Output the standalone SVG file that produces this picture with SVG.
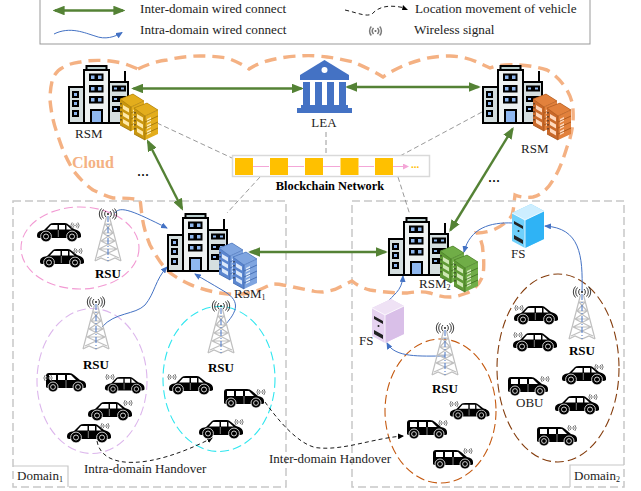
<svg xmlns="http://www.w3.org/2000/svg" xmlns:xlink="http://www.w3.org/1999/xlink" width="641" height="491" viewBox="0 0 641 491">
<style>
text{font-family:"Liberation Serif","Times New Roman",serif;fill:#222;font-size:13px}
.b{font-weight:bold;fill:#000}
.m{text-anchor:middle}
.dom{fill:none;stroke:#c8c8c8;stroke-width:1.5;stroke-dasharray:8 4}
.ell{fill:none;stroke-width:1.100;stroke-dasharray:9 4}
.green{fill:none;stroke:#548235;stroke-width:2.400;marker-start:url(#ga);marker-end:url(#ga)}
.blue{fill:none;stroke:#4472c4;stroke-width:1;marker-end:url(#ba)}
.gd{fill:none;stroke:#7f7f7f;stroke-width:.8;stroke-dasharray:5 3}
.kd{fill:none;stroke:#000;stroke-width:.9;stroke-dasharray:4 3;marker-end:url(#ka)}
.sg{fill:none;stroke:#7a7a7a;stroke-width:1}
.sd{fill:none;stroke:#222;stroke-width:.9}
.blk{fill:#ffc000}
.pk{stroke:#f4a6d7;stroke-width:1;fill:none;marker-end:url(#pa)}
.gold{--a:#ffe9a8;--b:#c9960f;--c:#9c7208;--d:#e3ad1c}
.oran{--a:#ffd9bd;--b:#c9692a;--c:#a35017;--d:#e2813c}
.bluS{--a:#dce9fa;--b:#5b86cf;--c:#3c66ad;--d:#7fa5e0}
.gree{--a:#cfe8b4;--b:#5f9a35;--c:#3f6f20;--d:#70ad47}
</style>
<defs>
<marker id="ga" markerWidth="5" markerHeight="4" refX="4" refY="2" orient="auto-start-reverse"><path d="M0 0L5 2L0 4z" fill="#548235"/></marker>
<marker id="ba" markerWidth="7" markerHeight="6" refX="6" refY="3" orient="auto" markerUnits="userSpaceOnUse"><path d="M0 0L7 3L0 6z" fill="#4472c4"/></marker>
<marker id="ka" markerWidth="6" markerHeight="6" refX="5" refY="3" orient="auto" markerUnits="userSpaceOnUse"><path d="M0 0L6 3L0 6z" fill="#000"/></marker>
<marker id="pa" markerWidth="6" markerHeight="6" refX="5" refY="3" orient="auto" markerUnits="userSpaceOnUse"><path d="M0 0L6 3L0 6z" fill="#f4a6d7"/></marker>
<g id="building">
<path d="M1 22h17v36H1z" fill="#d5dfe0" stroke="#000" stroke-width="2"/>
<path d="M41 17h19v41H41z" fill="#d5dfe0" stroke="#000" stroke-width="2"/>
<path d="M18.500 1h20v4h-20z" fill="#b9cdcd" stroke="#000" stroke-width="2"/>
<path d="M16 5h25v53H16z" fill="#eef2f2" stroke="#000" stroke-width="2"/>
<path d="M57 17V6" stroke="#000" stroke-width="2"/>
<g fill="#8fb8f0" stroke="#000" stroke-width="2">
<path d="M22 9.500h5.500v5.500H22zM29 9.500h5.500v5.500H29zM22 21h5.500v5.500H22zM29 21h5.500v5.500H29zM22 32h5.500v5.500H22zM29 32h5.500v5.500H29z"/>
<path d="M5 27h5v5H5zM5 36h5v5H5zM5 46h5v5H5z"/>
<path d="M45 21.500h5v4h-5zM52 21.500h5v4h-5zM45 32h5v4h-5zM52 32h5v4h-5zM45 42h5v4h-5zM52 42h5v4h-5z"/>
<path d="M23 45h11v13H23z"/>
</g>
</g>
<g id="unit">
<path d="M0 5L13 0L24 7L11 13V37L0 31z" fill="var(--b)"/>
<path d="M11 13L24 7V31L11 37z" fill="var(--d)"/>
<path d="M0 5L13 0L24 7L11 13z" fill="var(--d)" stroke="var(--c)" stroke-width=".5"/>
<path d="M11 13V37M0 31L11 37" stroke="var(--c)" stroke-width=".8" fill="none"/>
<g fill="var(--a)"><path d="M3 11l6 3.500v4l-6-3.500zM3 18l6 3.500v4l-6-3.500zM3 25l6 3.500v4l-6-3.500z"/><path d="M13 16l4-2v4l-4 2zM13 22l4-2v4l-4 2zM13 28l4-2v4l-4 2z"/></g>
<path d="M11 19l13-6M11 25l13-6M11 31l13-6" stroke="var(--c)" stroke-width=".8"/>
<path d="M1 9v20" stroke="#222" stroke-width="1" stroke-dasharray="1.500 2.500"/>
</g>
<g id="stack"><use href="#unit"/><use href="#unit" x="14" y="9"/></g>
<g id="sig"><path class="sg" d="M-1.300-2a3 3 0 0 0 0 4M-2.800-3a4.500 4.500 0 0 0 0 6M1.300-2a3 3 0 0 1 0 4M2.800-3a4.500 4.500 0 0 1 0 6"/><circle r=".7" fill="#666"/></g>
<g id="tower">
<g fill="none" stroke="#bfbfbf" stroke-width="1.200">
<path d="M-1.500 3L-13 47M1.500 3L13 47M-13 47L-7 44L0 47L7 44L13 47"/>
<path d="M-3 10H3M-5 19H5M-7 27H7M-9 35H9M-3 10L5 19M3 10L-5 19M-5 19L7 27M5 19L-7 27M-7 27L9 35M7 27L-9 35M-9 35L11 44M9 35L-11 44"/>
</g>
<path d="M0 2V47" stroke="#4472c4" stroke-width="1" stroke-dasharray="6 2 1 2"/>
<path class="sd" d="M-2-3a4 4 0 0 0 0 6M-4.500-4.500a6.500 6.500 0 0 0 0 9M-6.500-5.500a8 8 0 0 0 0 11M2-3a4 4 0 0 1 0 6M4.500-4.500a6.500 6.500 0 0 1 0 9M6.500-5.500a8 8 0 0 1 0 11"/>
<circle r="1" fill="#222"/>
</g>
<g id="suv">
<path d="M1 14C1 10 3 9 8 8L14 2Q15 1 18 1H29Q31 1 33 3L38 7C42 8 45 10 45 13V15Q44 16 42 16H3Q1 16 1 14Z" fill="#000"/>
<path d="M15 3H21.500V7.500H11zM23 3H29V7.500H23zM30.500 3L35.500 7.500H30.500z" fill="#fff"/>
<path d="M22.300 8V15" stroke="#fff" stroke-width=".5"/>
<g fill="#000" stroke="#fff" stroke-width=".8"><circle cx="10" cy="14.500" r="5.400"/><circle cx="36" cy="14.500" r="5.400"/><circle cx="10" cy="14.500" r="2.500"/><circle cx="36" cy="14.500" r="2.500"/></g>
</g>
<g id="van">
<path d="M1 15V4Q1 1 4 1H24Q27 1 29 3L35 8Q41 9 41 13V15Q41 16 39 16H2Z" fill="#000"/>
<path d="M4 3H11V8H4zM13 3H20V8H13zM22 3H26L31 8H22z" fill="#fff"/>
<path d="M21 8V16" stroke="#fff" stroke-width=".5"/>
<g fill="#000" stroke="#fff" stroke-width=".8"><circle cx="8" cy="15" r="5"/><circle cx="33" cy="15" r="5"/><circle cx="8" cy="15" r="2.400"/><circle cx="33" cy="15" r="2.400"/></g>
</g>
<g id="fs">
<path d="M0 9L19 0L32 7L32 35L13 44L0 37z" fill="var(--d)"/>
<path d="M13 16L32 7V35L13 44z" fill="var(--b)"/>
<path d="M0 9L19 0L32 7L13 16z" fill="var(--a)"/>
<path d="M0 9L13 16V44M13 16L32 7" stroke="#fff" stroke-width=".8" fill="none"/>
<path d="M2 17l9 5v3l-9-5zM2 31l9 5v4l-9-5z" fill="#222"/>
<circle cx="6.500" cy="27" r="1" fill="#222"/>
</g>
</defs>
<rect width="641" height="491" fill="#fff"/>
<g id="legend">
<rect x="40" y="-1" width="550" height="45" fill="none" stroke="#999" stroke-width="1"/>
<text x="140" y="13" style="font-size:13.200px">Inter-domain wired connect</text>
<text x="140" y="34" style="font-size:13.200px">Intra-domain wired connect</text>
<text x="415" y="13" style="font-size:13.200px">Location movement of vehicle</text>
<text x="414" y="34" style="font-size:13.200px">Wireless signal</text>
<use href="#sig" transform="translate(375.500 31) scale(1.500)"/>
</g>
<g id="domains">
<rect class="dom" x="13" y="201" width="273" height="286"/>
<rect class="dom" x="352" y="201" width="272" height="286"/>
<path d="M13 466H68V487" fill="none" stroke="#c8c8c8" stroke-width="1.200"/>
<path d="M570 487V465H624" fill="none" stroke="#c8c8c8" stroke-width="1.200"/>
<text x="17" y="480">Domain<tspan dy="2" style="font-size:8px">1</tspan></text>
<text x="574" y="480">Domain<tspan dy="2" style="font-size:8px">2</tspan></text>
</g>
<g id="regions">
<ellipse class="ell" cx="80" cy="248" rx="59" ry="41" stroke="#f29ad3"/>
<ellipse class="ell" cx="92" cy="381" rx="55" ry="72.500" stroke="#dcb6ec"/>
<ellipse class="ell" cx="219" cy="379" rx="56" ry="72.500" stroke="#2fe6ef"/>
<ellipse class="ell" cx="440.500" cy="411" rx="55.500" ry="72" stroke="#c55a11"/>
<ellipse class="ell" cx="558" cy="368" rx="61" ry="94" stroke="#843c0c"/>
</g>
<g id="cloud">
<path d="M138 69C148 64 158 61 167 60C180 57 190 56 200 56C212 56 220 57 227 58C236 61 243 65 249 69C255 65 261 63 267 61C278 58 290 56 300 56C310 55 319 56 327 57C336 58 345 60 353 62C363 66 375 72 383 77C393 70 405 64 420 60C430 57 440 56 450 56C460 56 470 59 477 62L490 68C498 65 508 64 517 65C527 65 537 67 547 70C556 75 562 82 567 90C571 97 573 104 573 110C574 125 571 137 567 147C563 160 559 171 553 180C547 190 541 195 533 197C526 198 520 197 515 195C514 202 514 209 512 215C508 222 500 227 493 230C487 232 482 233 477 233C481 239 483 245 483 252C484 260 484 268 483 275C480 284 474 290 467 293C461 295 456 297 450 297C442 297 436 295 430 293C422 291 415 292 407 293C394 293 382 292 370 290C362 288 357 285 352 281C348 283 344 285 340 287C335 290 329 291 323 292C319 292 316 292 313 291C303 289 293 287 283 285C279 284 276 284 273 284C267 286 260 290 253 292C242 295 231 295 220 293C208 291 197 288 187 283C179 279 172 275 167 270C160 263 155 254 150 245C146 235 143 225 142 215C141 210 141 205 140 200C131 198 122 198 113 198C106 196 99 193 93 190C86 185 79 178 73 170C69 163 66 157 63 150C61 145 59 139 57 133C53 122 51 111 50 100C50 92 51 84 53 78C55 74 58 70 62 68C68 64 74 63 80 62C90 60 100 60 110 61C117 62 123 63 128 65C131 66 135 68 138 69Z" fill="none" stroke="#f4b183" stroke-width="3.400" stroke-dasharray="12 7"/>
<text x="72" y="168" class="b" style="font-size:16px;fill:#f4b183">Cloud</text>
</g>
<g id="connectors">
<path class="gd" d="M157 123L232 158M326 132V155M400 156L482 112M260 177L227 213M398 177L410 215"/>
<path class="green" d="M55 10.500H123"/>
<path class="green" d="M133.500 88.500H301.500"/>
<path class="green" d="M347.500 87H478.500"/>
<path class="green" d="M148 141.500L182 208.500"/>
<path class="green" d="M512.500 129L450.500 230"/>
<path class="green" d="M250.500 252H385.500"/>
<path class="blue" d="M54 34C70 26 85 33 95 36C105 40 115 37 122 32.500"/>
<path class="blue" d="M115 213C120 205 135 212 167 228"/>
<path class="blue" d="M102 327C115 312 135 315 145 305C155 293 155 280 167 267"/>
<path class="blue" d="M222 328C240 310 240 300 222 290C212 284 203 279 195 274"/>
<path class="blue" d="M582 292C583 255 580 228 545 226"/>
<path class="blue" d="M513 223C490 222 470 228 464 252"/>
<path class="blue" d="M445 356C420 356 395 358 387 343"/>
<path class="blue" d="M387 303C392 295 402 292 403 276"/>
<path class="kd" d="M345 10C358 13 366 17 372 14C380 5 392 5 405 8" style="marker-end:none"/>
<path d="M403 5L408 10H402z" fill="#000"/>
<path class="kd" d="M97 441C102 470 150 470 212 438"/>
<path class="kd" d="M265 402C285 430 305 448 320 448C345 450 375 438 403 436"/>
</g>
<g id="node-rsm-tl"><use href="#building" x="68" y="65"/><use href="#stack" class="gold" x="120" y="94"/><text x="75" y="138">RSM</text></g>
<g id="node-rsm-tr"><use href="#building" x="482" y="65"/><use href="#stack" class="oran" x="533" y="94"/><text x="521" y="153">RSM</text></g>
<g id="node-rsm1"><use href="#building" x="167" y="213"/><use href="#stack" class="bluS" x="219" y="243"/><text x="234" y="298">RSM<tspan dy="2" style="font-size:8px">1</tspan></text></g>
<g id="node-rsm2"><use href="#building" x="388" y="217"/><use href="#stack" class="gree" x="440" y="246"/><text x="419" y="288">RSM<tspan dy="2" style="font-size:8px">2</tspan></text></g>
<g id="node-lea">
<path d="M324.500 60L349 75V80H300V75Z" fill="#4472c4"/>
<circle cx="324.500" cy="70" r="3" fill="#fff"/>
<path d="M303 82h7v23h-7zM315 82h7v23h-7zM327 82h7v23h-7zM339 82h7v23h-7zM301 105h47v3h-47zM297 108h55v5h-55z" fill="#4472c4"/>
<text x="324" y="127" class="m">LEA</text>
</g>
<g id="node-blockchain">
<rect x="232.500" y="155.500" width="197" height="21" fill="#fff" stroke="#d9d9d9" stroke-width="1.500"/>
<rect class="blk" x="235" y="158" width="18" height="17"/>
<rect class="blk" x="270" y="158" width="18" height="17"/>
<rect class="blk" x="305" y="158" width="18" height="17"/>
<rect class="blk" x="340.500" y="158" width="18" height="17"/>
<rect class="blk" x="375" y="158" width="18" height="17"/>
<path class="pk" d="M253 166.500H269M288 166.500H304M323 166.500H340M358.500 166.500H374M393 166.500H408"/>
<text x="411" y="168" style="font-size:11px;fill:#ffc000;font-weight:bold">...</text>
<text x="330" y="190" class="b m" style="font-size:12.400px">Blockchain Network</text>
</g>
<g id="node-fs1"><use href="#fs" x="512" y="204" style="--a:#cdeeff;--b:#2fb3f5;--c:#1b86c0;--d:#6fd0fb"/><text x="511" y="258">FS</text></g>
<g id="node-fs2"><use href="#fs" x="372" y="299" style="--a:#efe2f5;--b:#d9bfe8;--c:#a98bc0;--d:#e6d2f0"/><text x="359" y="345">FS</text></g>
<g id="node-tower1"><use href="#tower" x="108" y="214"/><text x="108" y="278" class="b m">RSU</text></g>
<g id="node-tower2"><use href="#tower" x="96" y="302"/><text x="96" y="369" class="b m">RSU</text></g>
<g id="node-tower3"><use href="#tower" x="221" y="306"/><text x="221" y="372" class="b m">RSU</text></g>
<g id="node-tower4"><use href="#tower" x="445" y="328"/><text x="445" y="393" class="b m">RSU</text></g>
<g id="node-tower5"><use href="#tower" x="582" y="292"/><text x="582" y="355" class="b m">RSU</text></g>
<g id="vehicles">
<use href="#suv" x="36" y="222"/><use href="#sig" x="75" y="225.500"/>
<use href="#suv" x="39" y="248"/><use href="#sig" x="78" y="251"/>
<use href="#van" x="45" y="372"/><use href="#sig" x="48" y="378"/>
<use href="#suv" transform="translate(104 376) scale(.9)"/><use href="#sig" x="110" y="377"/>
<use href="#suv" x="87" y="401"/><use href="#sig" x="128" y="403"/>
<use href="#suv" x="66" y="423"/><use href="#sig" x="105" y="426"/>
<use href="#suv" x="168" y="375"/><use href="#sig" x="172" y="377"/>
<use href="#van" x="223" y="388"/><use href="#sig" x="261" y="392"/>
<use href="#suv" x="198" y="419"/><use href="#sig" x="239" y="422"/>
<use href="#suv" transform="translate(449 402) scale(.9)"/><use href="#sig" x="454" y="404"/>
<use href="#van" x="406" y="419"/><use href="#sig" x="443" y="423"/>
<use href="#van" x="432" y="449"/><use href="#sig" x="468" y="451"/>
<use href="#suv" x="513" y="305"/><use href="#sig" x="519" y="308"/>
<use href="#suv" x="512" y="332"/><use href="#sig" x="518" y="335"/>
<use href="#van" x="507" y="376"/><use href="#sig" x="545" y="379"/>
<use href="#suv" x="561" y="365"/><use href="#sig" x="599" y="367"/>
<use href="#suv" x="554" y="395"/><use href="#sig" x="593" y="397"/>
<use href="#van" x="536" y="426"/><use href="#sig" x="572" y="428"/>
</g>
<g id="labels">
<text x="143" y="176" class="m" style="font-size:16px;fill:#000">...</text>
<text x="494" y="182" class="m" style="font-size:16px;fill:#000">...</text>
<text x="516" y="407">OBU</text>
<text x="84" y="473">Intra-domain Handover</text>
<text x="269" y="463">Inter-domain Handover</text>
</g>
</svg>
